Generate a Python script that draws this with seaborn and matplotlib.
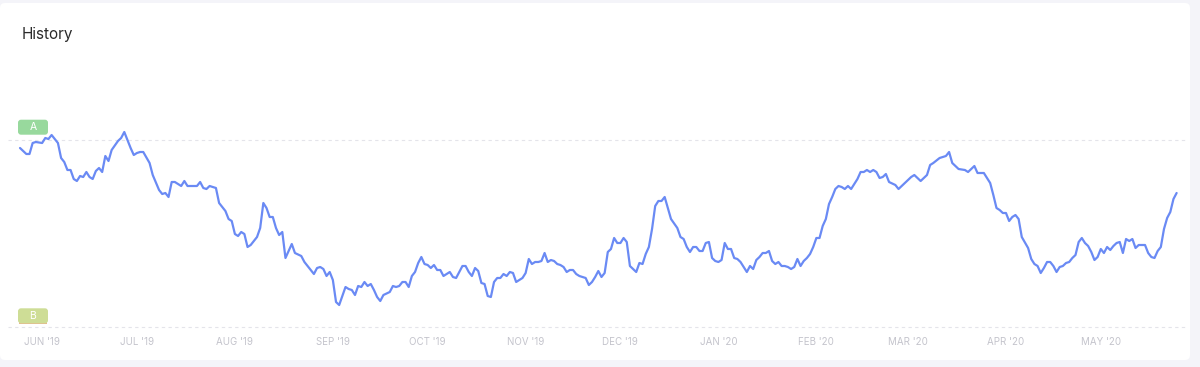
import matplotlib
matplotlib.use("Agg")
import matplotlib.pyplot as plt
import matplotlib.transforms as mtransforms
from matplotlib.patches import FancyBboxPatch, Rectangle
import pandas as pd
import seaborn as sns

# ---------------- data ----------------
start_date = "2019-05-25"
day_offset = [
    0, 2, 3, 4, 5, 7, 8, 9, 10, 12, 13, 14, 15, 16, 17, 18, 19, 20, 21, 22, 23, 24, 25, 26, 27, 28, 29,
    31, 32, 33, 35, 36, 37, 38, 39, 41, 42, 44, 45, 46, 47, 48, 49, 51, 52, 53, 56, 57, 58, 59, 60, 62,
    63, 65, 66, 67, 68, 69, 70, 71, 72, 73, 75, 76, 77, 78, 79, 80, 81, 82, 83, 84, 85, 86, 87, 89, 90,
    92, 93, 94, 95, 96, 97, 98, 99, 100, 101, 103, 104, 105, 106, 107, 108, 109, 110, 111, 112, 113,
    114, 115, 117, 118, 119, 120, 121, 122, 123, 124, 125, 126, 127, 128, 129, 130, 131, 132, 133, 134,
    136, 137, 138, 139, 140, 141, 142, 143, 144, 145, 146, 147, 148, 149, 150, 151, 152, 153, 154, 155,
    156, 157, 159, 160, 161, 162, 163, 164, 165, 166, 167, 168, 169, 170, 171, 172, 173, 174, 175, 176,
    177, 178, 179, 180, 181, 182, 183, 184, 185, 186, 187, 188, 189, 190, 191, 192, 193, 194, 195, 196,
    197, 198, 199, 200, 201, 202, 203, 204, 205, 206, 208, 209, 210, 211, 212, 213, 214, 215, 216, 217,
    218, 219, 220, 221, 222, 223, 224, 225, 226, 227, 228, 229, 230, 231, 232, 233, 234, 235, 236, 237,
    238, 239, 240, 241, 242, 243, 244, 245, 246, 247, 248, 249, 250, 251, 252, 253, 254, 255, 256, 257,
    258, 259, 260, 261, 262, 263, 264, 265, 266, 267, 268, 269, 270, 271, 272, 273, 274, 275, 277, 278,
    279, 281, 282, 283, 284, 285, 287, 288, 289, 291, 292, 293, 294, 295, 297, 299, 300, 301, 302, 303,
    305, 306, 307, 308, 309, 310, 311, 312, 313, 314, 315, 316, 317, 319, 320, 321, 322, 323, 324, 325,
    326, 327, 328, 329, 330, 331, 332, 333, 334, 335, 336, 337, 338, 339, 340, 341, 342, 343, 344, 345,
    346, 347, 348, 349, 350, 351, 352, 353, 354, 356, 357, 358, 359, 360, 361, 362, 363, 364, 365, 366,
]
score = [
    179, 173, 173, 184, 185, 184, 189, 188, 192, 184, 169, 165, 157, 157, 148, 146, 151, 150, 155, 150, 148, 156, 159, 155, 171, 166, 177,
    186, 189, 195, 179, 172, 174, 175, 175, 164, 152, 137, 133, 134, 130, 145, 145, 141, 146, 141, 141, 145, 139, 138, 141, 139,
    124, 116, 108, 106, 93, 91, 95, 93, 80, 82, 90, 99, 124, 119, 110, 110, 99, 92, 95, 69, 76, 83, 74, 71, 65,
    57, 53, 59, 60, 58, 51, 55, 47, 25, 22, 40, 38, 37, 32, 41, 40, 45, 41, 43, 37, 30,
    26, 32, 35, 41, 40, 41, 45, 45, 40, 51, 55, 64, 70, 63, 62, 59, 62, 57, 57, 51,
    55, 50, 49, 55, 61, 61, 55, 51, 59, 56, 44, 43, 31, 30, 45, 49, 49, 53, 51, 55,
    54, 45, 49, 54, 68, 63, 65, 65, 66, 74, 65, 67, 66, 63, 62, 60, 55, 57, 57, 53,
    51, 50, 49, 42, 45, 50, 56, 50, 54, 75, 78, 89, 84, 84, 89, 85, 61, 58, 55, 64,
    63, 73, 80, 98, 121, 126, 126, 130, 119, 108, 99, 90, 88, 80, 75, 80, 80, 76, 76, 84,
    85, 69, 66, 65, 67, 84, 78, 78, 69, 68, 65, 60, 55, 61, 58, 67, 70, 74, 74, 76,
    66, 63, 65, 61, 61, 60, 58, 60, 68, 61, 66, 69, 73, 80, 89, 89, 101, 108, 123, 130,
    138, 141, 140, 138, 141, 138, 143, 148, 155, 155, 157, 155, 157, 155, 149, 150, 153, 145, 142, 138,
    141, 147, 150, 152, 149, 146, 152, 162, 164, 169, 170, 171, 175, 164, 158, 157, 155, 158, 161, 154,
    154, 149, 144, 132, 119, 117, 114, 114, 106, 110, 112, 108, 90, 79, 68, 63, 61, 54, 59, 65,
    65, 61, 55, 60, 61, 64, 65, 69, 72, 85, 89, 84, 81, 75, 67, 70, 78, 74, 80, 77,
    81, 84, 85, 74, 88, 86, 88, 79, 82, 82, 74, 70, 69, 76, 80, 98, 109, 115, 128, 134,
]
level_names = ["A", "B"]
level_values = [187, 0]
month_starts = ["2019-06-01", "2019-07-01", "2019-08-01", "2019-09-01", "2019-10-01", "2019-11-01",
                "2019-12-01", "2020-01-01", "2020-02-01", "2020-03-01", "2020-04-01", "2020-05-01"]
month_labels = ["JUN '19", "JUL '19", "AUG '19", "SEP '19", "OCT '19", "NOV '19",
                "DEC '19", "JAN '20", "FEB '20", "MAR '20", "APR '20", "MAY '20"]
title = "History"

# ---------------- style ----------------
sns.set_theme(style="white")
plt.rcParams["font.family"] = ["Inter", "DejaVu Sans"]

W, H = 1200, 367
fig = plt.figure(figsize=(W / 100, H / 100), dpi=100, facecolor="#f4f4f9")
ident = mtransforms.IdentityTransform()

# white card
card = FancyBboxPatch((0, H - 360), 1190, 357, boxstyle="round,pad=0,rounding_size=5",
                      transform=ident, facecolor="white", edgecolor="none", zorder=-10)
fig.add_artist(card)

ax = fig.add_axes([8 / W, (H - 330) / H, 1180 / W, 230 / H])
ax.set_facecolor("none")

df = pd.DataFrame({
    "date": pd.Timestamp(start_date) + pd.to_timedelta(day_offset, unit="D"),
    "score": score,
})

for lv in level_values:
    ax.axhline(lv, color="#e4e4ea", lw=0.8, ls=(0, (3, 3)), zorder=0)

sns.lineplot(data=df, x="date", y="score", ax=ax, color="#6a8af4", linewidth=1.6, zorder=3)

t0 = pd.Timestamp(start_date)
ax.set_xlim(t0 - pd.Timedelta(days=3.8), t0 + pd.Timedelta(days=369.6))
ax.set_ylim(-3, 227)
ax.set_xticks(pd.to_datetime(month_starts))
ax.set_xticklabels(month_labels)
ax.set_yticks([])
ax.set_xlabel("")
ax.set_ylabel("")
ax.tick_params(axis="x", length=0, pad=5, labelsize=7, labelcolor="#c4c4cc")
for s in ax.spines.values():
    s.set_visible(False)
ax.grid(False)

# title
fig.text(22 / W, 1 - 39.5 / H, title, fontsize=11, color="#2b2b2b", va="baseline", ha="left")

# level badges
badge_colors = ["#98d99d", "#cedd96"]
badge_gap = [5.3, 3.7]
for name, lv, col, gap in zip(level_names, level_values, badge_colors, badge_gap):
    yd = ax.transData.transform((0, lv))[1]
    bottom = yd + gap
    box = FancyBboxPatch((18, bottom), 30, 15, boxstyle="round,pad=0,rounding_size=3",
                         transform=ident, facecolor=col, edgecolor="none", zorder=5)
    fig.add_artist(box)
    if name == "B":
        fig.add_artist(Rectangle((19, bottom - 0.2), 28, 1.2, transform=ident,
                                 facecolor="#e6b98c", edgecolor="none", zorder=4))
    fig.text(33, bottom + 7.5, name, transform=ident, fontsize=7.5, color="white",
             ha="center", va="center", zorder=6)

fig.savefig("out.png", dpi=100, facecolor=fig.get_facecolor())
